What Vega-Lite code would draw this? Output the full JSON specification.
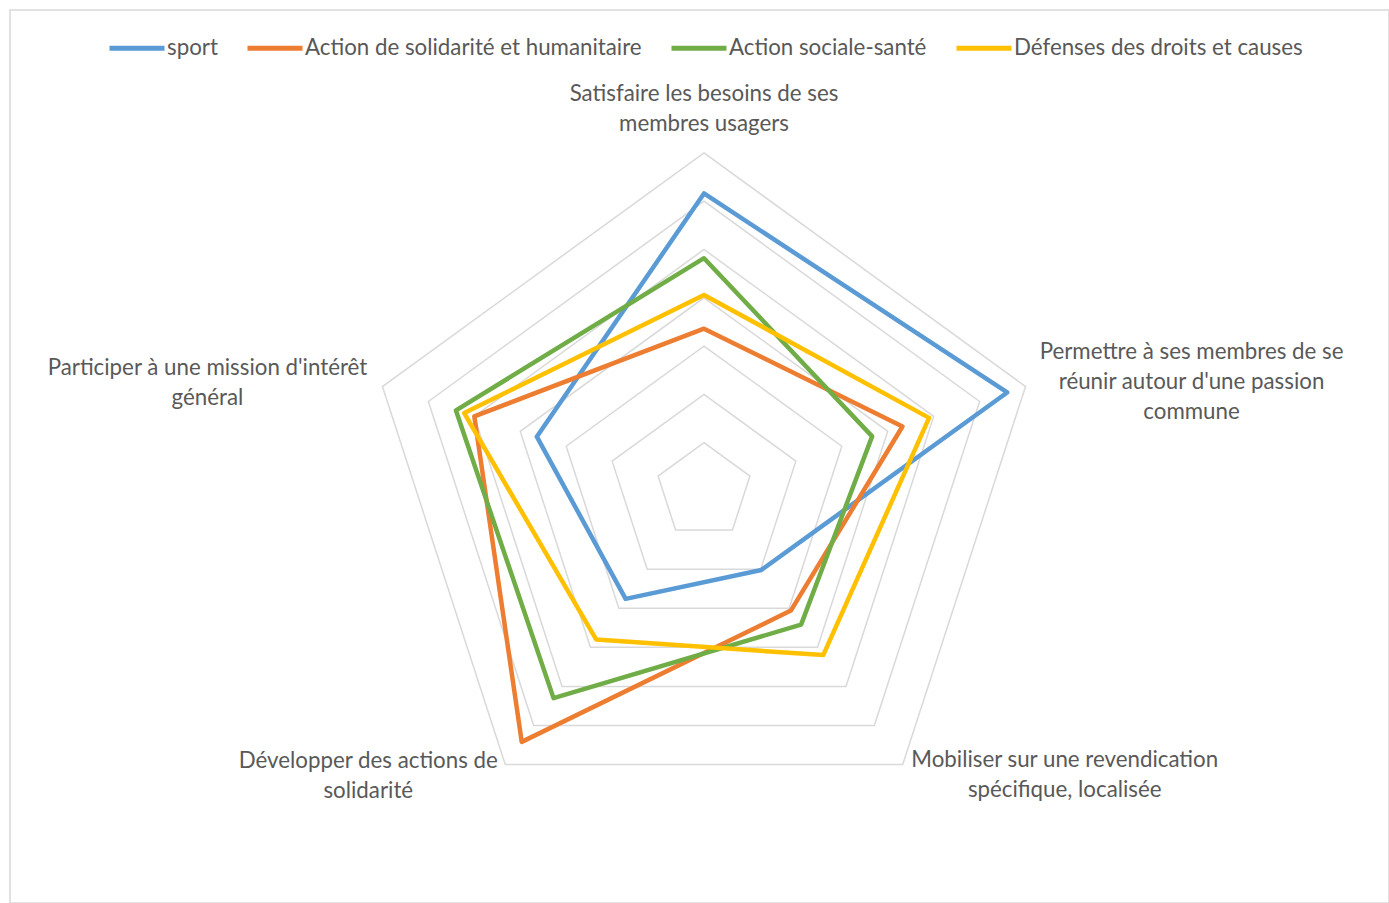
{
  "$schema": "https://vega.github.io/schema/vega-lite/v6.json",
  "width": 1379,
  "height": 893,
  "autosize": {"type": "none"},
  "padding": {"left": 10, "top": 10, "right": 0, "bottom": 0},
  "background": "white",
  "config": {
    "view": {"stroke": "#D9D9D9", "strokeWidth": 1.5},
    "font": "Lato",
    "text": {"font": "Lato", "fontSize": 22.3, "fill": "#595959", "lineHeight": 30, "lineBreak": "\n", "align": "center", "baseline": "middle"}
  },
  "datasets": {
    "grid": [
      {"lv": 5, "k": [0, 1, 2, 3, 4]},
      {"lv": 10, "k": [0, 1, 2, 3, 4]},
      {"lv": 15, "k": [0, 1, 2, 3, 4]},
      {"lv": 20, "k": [0, 1, 2, 3, 4]},
      {"lv": 25, "k": [0, 1, 2, 3, 4]},
      {"lv": 30, "k": [0, 1, 2, 3, 4]},
      {"lv": 35, "k": [0, 1, 2, 3, 4]}
    ],
    "series": [
      {"s": "sport", "k": 0, "v": 30.8},
      {"s": "sport", "k": 1, "v": 33.0},
      {"s": "sport", "k": 2, "v": 10.1},
      {"s": "sport", "k": 3, "v": 13.8},
      {"s": "sport", "k": 4, "v": 18.2},
      {"s": "Action de solidarité et humanitaire", "k": 0, "v": 16.8},
      {"s": "Action de solidarité et humanitaire", "k": 1, "v": 21.6},
      {"s": "Action de solidarité et humanitaire", "k": 2, "v": 15.3},
      {"s": "Action de solidarité et humanitaire", "k": 3, "v": 32.1},
      {"s": "Action de solidarité et humanitaire", "k": 4, "v": 25.0},
      {"s": "Action sociale-santé", "k": 0, "v": 24.1},
      {"s": "Action sociale-santé", "k": 1, "v": 18.3},
      {"s": "Action sociale-santé", "k": 2, "v": 17.1},
      {"s": "Action sociale-santé", "k": 3, "v": 26.5},
      {"s": "Action sociale-santé", "k": 4, "v": 27.0},
      {"s": "Défenses des droits et causes", "k": 0, "v": 20.3},
      {"s": "Défenses des droits et causes", "k": 1, "v": 24.5},
      {"s": "Défenses des droits et causes", "k": 2, "v": 21.0},
      {"s": "Défenses des droits et causes", "k": 3, "v": 19.0},
      {"s": "Défenses des droits et causes", "k": 4, "v": 26.1}
    ],
    "labels": [
      {"k": 0, "t": "Satisfaire les besoins de ses\nmembres usagers"},
      {"k": 1, "t": "Permettre à ses membres de se\nréunir autour d'une passion\ncommune"},
      {"k": 2, "t": "Mobiliser sur une revendication\nspécifique, localisée"},
      {"k": 3, "t": "Développer des actions de\nsolidarité"},
      {"k": 4, "t": "Participer à une mission d'intérêt\ngénéral"}
    ]
  },
  "encoding": {
    "x": {"field": "x", "type": "quantitative", "scale": {"domain": [-71.843, 70.911], "nice": false, "zero": false}, "axis": null},
    "y": {"field": "y", "type": "quantitative", "scale": {"domain": [-42.65, 49.793], "nice": false, "zero": false}, "axis": null}
  },
  "layer": [
    {
      "data": {"name": "grid"},
      "transform": [
        {"flatten": ["k"]},
        {"calculate": "datum.lv * sin(datum.k * 2 * PI / 5)", "as": "x"},
        {"calculate": "datum.lv * cos(datum.k * 2 * PI / 5)", "as": "y"}
      ],
      "mark": {"type": "line", "interpolate": "linear-closed", "stroke": "#D9D9D9", "strokeWidth": 1.5},
      "encoding": {
        "detail": {"field": "lv", "type": "nominal"},
        "order": {"field": "k", "type": "quantitative"}
      }
    },
    {
      "data": {"name": "series"},
      "transform": [
        {"calculate": "datum.v * sin(datum.k * 2 * PI / 5)", "as": "x"},
        {"calculate": "datum.v * cos(datum.k * 2 * PI / 5)", "as": "y"}
      ],
      "mark": {"type": "line", "interpolate": "linear-closed", "strokeWidth": 4.5, "strokeJoin": "round"},
      "encoding": {
        "color": {
          "field": "s",
          "type": "nominal",
          "scale": {
            "domain": ["sport", "Action de solidarité et humanitaire", "Action sociale-santé", "Défenses des droits et causes"],
            "range": ["#5B9BD5", "#ED7D31", "#70AD47", "#FFC000"]
          },
          "legend": {
            "title": null,
            "orient": "none",
            "direction": "horizontal",
            "legendX": 97,
            "legendY": 8,
            "symbolType": "stroke",
            "symbolSize": 3025,
            "symbolStrokeWidth": 5,
            "labelFontSize": 22.3,
            "labelFont": "Lato",
            "labelColor": "#595959",
            "labelLimit": 0,
            "labelOffset": 0,
            "columnPadding": 19
          }
        },
        "order": {"field": "k", "type": "quantitative"}
      }
    },
    {
      "data": {"name": "labels"},
      "transform": [
        {"filter": "datum.k == 0"},
        {"calculate": "35 * sin(datum.k * 2 * PI / 5)", "as": "x"},
        {"calculate": "35 * cos(datum.k * 2 * PI / 5)", "as": "y"}
      ],
      "mark": {"type": "text", "dx": 0, "dy": -59},
      "encoding": {"text": {"field": "t", "type": "nominal"}}
    },
    {
      "data": {"name": "labels"},
      "transform": [
        {"filter": "datum.k == 1"},
        {"calculate": "35 * sin(datum.k * 2 * PI / 5)", "as": "x"},
        {"calculate": "35 * cos(datum.k * 2 * PI / 5)", "as": "y"}
      ],
      "mark": {"type": "text", "dx": 166, "dy": -35},
      "encoding": {"text": {"field": "t", "type": "nominal"}}
    },
    {
      "data": {"name": "labels"},
      "transform": [
        {"filter": "datum.k == 2"},
        {"calculate": "35 * sin(datum.k * 2 * PI / 5)", "as": "x"},
        {"calculate": "35 * cos(datum.k * 2 * PI / 5)", "as": "y"}
      ],
      "mark": {"type": "text", "dx": 162, "dy": -4.5},
      "encoding": {"text": {"field": "t", "type": "nominal"}}
    },
    {
      "data": {"name": "labels"},
      "transform": [
        {"filter": "datum.k == 3"},
        {"calculate": "35 * sin(datum.k * 2 * PI / 5)", "as": "x"},
        {"calculate": "35 * cos(datum.k * 2 * PI / 5)", "as": "y"}
      ],
      "mark": {"type": "text", "dx": -137, "dy": -4},
      "encoding": {"text": {"field": "t", "type": "nominal"}}
    },
    {
      "data": {"name": "labels"},
      "transform": [
        {"filter": "datum.k == 4"},
        {"calculate": "35 * sin(datum.k * 2 * PI / 5)", "as": "x"},
        {"calculate": "35 * cos(datum.k * 2 * PI / 5)", "as": "y"}
      ],
      "mark": {"type": "text", "dx": -175, "dy": -19},
      "encoding": {"text": {"field": "t", "type": "nominal"}}
    }
  ]
}
